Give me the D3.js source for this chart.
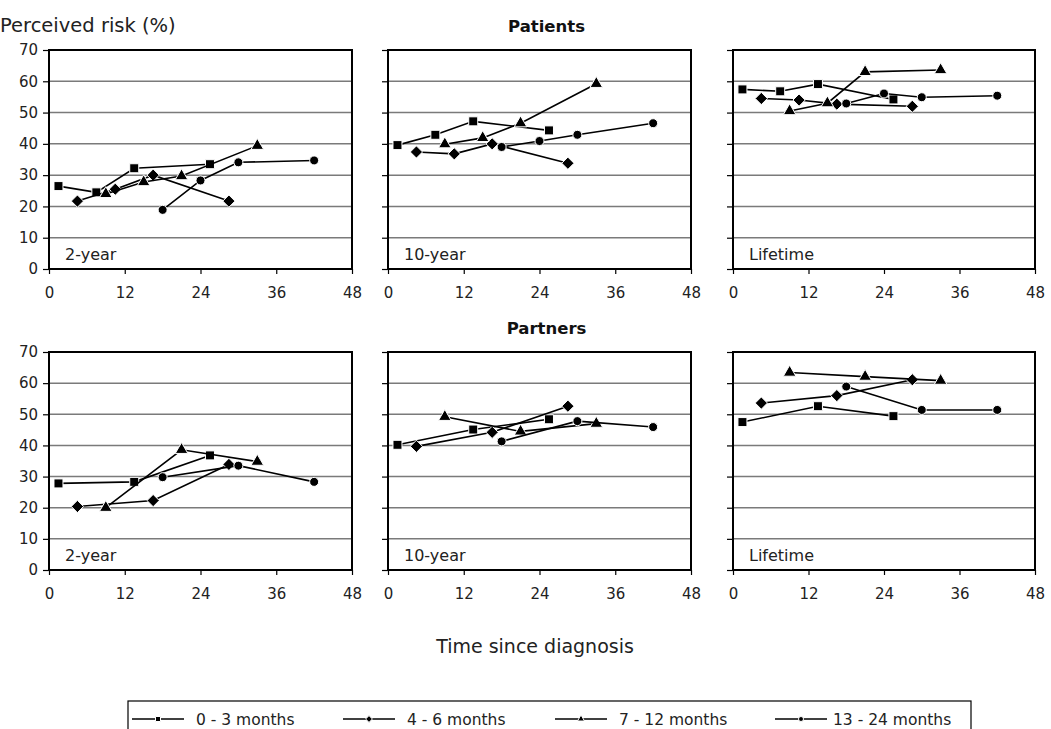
<!DOCTYPE html>
<html>
<head>
<meta charset="utf-8">
<script src="https://cdn.jsdelivr.net/npm/d3@7"></script>
<style>
  html, body { margin: 0; padding: 0; background: #fff; }
  svg { display: block; font-family: "DejaVu Sans", sans-serif; }
</style>
</head>
<body>
<div id="chart"></div>
<script>
// Perceived risk over time since diagnosis, patients vs partners
const groups = ["0 - 3 months", "4 - 6 months", "7 - 12 months", "13 - 24 months"];
const symbols = ["square", "diamond", "triangle", "circle"];
const xTicks = [0, 12, 24, 36, 48];
const yTicks = [0, 10, 20, 30, 40, 50, 60, 70];
const riskTypes = ["2-year", "10-year", "Lifetime"];

// months since diagnosis at each assessment, per group
const patientMonths = [[1.5, 7.5, 13.5, 25.5], [4.5, 10.5, 16.5, 28.5], [9, 15, 21, 33], [18, 24, 30, 42]];
const partnerMonths = [[1.5, 13.5, 25.5], [4.5, 16.5, 28.5], [9, 21, 33], [18, 30, 42]];

// perceived risk (%) per group
const patients2yr  = [[26.5, 24.5, 32.2, 33.5], [21.7, 25.5, 30.0, 21.7], [24.0, 27.8, 29.7, 39.4], [18.9, 28.3, 34.1, 34.7]];
const patients10yr = [[39.6, 42.9, 47.2, 44.3], [37.4, 36.8, 40.0, 33.8], [39.9, 41.9, 46.6, 59.2], [39.0, 40.9, 42.9, 46.6]];
const patientsLife = [[57.4, 56.8, 59.1, 54.2], [54.5, 54.0, 52.7, 52.0], [50.5, 53.0, 63.0, 63.6], [52.9, 56.1, 54.9, 55.4]];
const partners2yr  = [[27.8, 28.3, 36.8], [20.4, 22.3, 33.9], [20.0, 38.6, 34.8], [29.8, 33.5, 28.3]];
const partners10yr = [[40.2, 45.1, 48.4], [39.7, 44.2, 52.6], [49.2, 44.5, 47.0], [41.3, 47.8, 45.9]];
const partnersLife = [[47.5, 52.6, 49.4], [53.6, 56.0, 61.1], [63.4, 62.1, 60.8], [58.9, 51.4, 51.4]];

(function () {
    const W = 1051, H = 729;
    const rowTop = [50, 352], rowBottom = [269, 570];
    const colLeft = [49, 388, 733], colRight = [352, 691, 1035];

    const rows = [
        { title: "Patients", months: patientMonths, sets: [patients2yr, patients10yr, patientsLife] },
        { title: "Partners", months: partnerMonths, sets: [partners2yr, partners10yr, partnersLife] }
    ];

    const svg = d3.select("#chart").append("svg").attr("width", W).attr("height", H);

    // ── Marker shapes ────────────────────────────────────────────────────────
    function markerPath(kind, s) {
        if (kind === "square") return d3.symbol(d3.symbolSquare, s * s)();
        if (kind === "circle") return d3.symbol(d3.symbolCircle, Math.PI * (s / 2) * (s / 2))();
        if (kind === "triangle") return d3.symbol(d3.symbolTriangle, s * s * 0.85)();
        const h = s * 0.68;   // rotated square
        return `M0,${-h}L${h},0L0,${h}L${-h},0Z`;
    }

    // ── Panels ───────────────────────────────────────────────────────────────
    rows.forEach((row, r) => {
        row.sets.forEach((set, c) => {
            const x = d3.scaleLinear().domain([0, 48]).range([colLeft[c], colRight[c]]);
            const y = d3.scaleLinear().domain([0, 70]).range([rowBottom[r], rowTop[r]]);
            const g = svg.append("g");

            // gridlines
            g.selectAll(".grid").data(yTicks.filter(v => v > 0 && v < 70)).join("line")
                .attr("x1", x(0)).attr("x2", x(48))
                .attr("y1", d => y(d)).attr("y2", d => y(d))
                .attr("stroke", "#7a7a7a").attr("stroke-width", 1.5);

            // axes
            const yAxis = g.append("g").attr("transform", `translate(${x(0)},0)`)
                .call(d3.axisLeft(y).tickValues(yTicks).tickSize(6).tickPadding(5)
                    .tickFormat(c === 0 ? d3.format("d") : () => ""));
            const xAxis = g.append("g").attr("transform", `translate(0,${y(0)})`)
                .call(d3.axisBottom(x).tickValues(xTicks).tickSize(5).tickPadding(13));
            [yAxis, xAxis].forEach(a => {
                a.select(".domain").remove();
                a.selectAll("line").attr("stroke", "#000").attr("stroke-width", 1.2);
                a.selectAll("text").attr("fill", "#222").style("font-size", "15px")
                    .style("font-family", "'DejaVu Sans', sans-serif");
            });

            // frame
            g.append("rect")
                .attr("x", x(0)).attr("y", y(70))
                .attr("width", x(48) - x(0)).attr("height", y(0) - y(70))
                .attr("fill", "none").attr("stroke", "#000").attr("stroke-width", 2);

            // panel label
            g.append("text").attr("x", x(0) + 16).attr("y", y(0) - 9)
                .style("font-size", "16px").attr("fill", "#222").text(riskTypes[c]);

            // series
            const line = d3.line().x(d => x(d[0])).y(d => y(d[1]));
            set.forEach((vals, k) => {
                const pts = vals.map((v, i) => [row.months[k][i], v]);
                g.append("path").attr("d", line(pts))
                    .attr("fill", "none").attr("stroke", "#000").attr("stroke-width", 1.6);
                g.selectAll(`.m${k}`).data(pts).join("path")
                    .attr("transform", d => `translate(${x(d[0])},${y(d[1])})`)
                    .attr("d", markerPath(symbols[k], 9))
                    .attr("fill", "#000").attr("stroke", "#fff").attr("stroke-width", 1);
            });
        });

        svg.append("text").attr("x", (colLeft[1] + colRight[1]) / 2 + 7).attr("y", rowTop[r] - 18)
            .attr("text-anchor", "middle").style("font-size", "16.5px").style("font-weight", "bold")
            .attr("fill", "#111").text(row.title);
    });

    // ── Titles ───────────────────────────────────────────────────────────────
    svg.append("text").attr("x", 0).attr("y", 32)
        .style("font-size", "19.5px").attr("fill", "#222").text("Perceived risk (%)");
    svg.append("text").attr("x", 535).attr("y", 653).attr("text-anchor", "middle")
        .style("font-size", "19px").attr("fill", "#222").text("Time since diagnosis");

    // ── Legend ───────────────────────────────────────────────────────────────
    svg.append("rect").attr("x", 128).attr("y", 701).attr("width", 843).attr("height", 40)
        .attr("fill", "none").attr("stroke", "#000").attr("stroke-width", 1.2);
    const legendX = [132, 343, 555, 775];
    groups.forEach((name, k) => {
        const lg = svg.append("g").attr("transform", `translate(${legendX[k]},719)`);
        lg.append("line").attr("x1", 0).attr("x2", 52).attr("stroke", "#000").attr("stroke-width", 1.6);
        lg.append("path").attr("transform", "translate(26,0)")
            .attr("d", markerPath(symbols[k], 5)).attr("fill", "#000")
            .attr("stroke", "#fff").attr("stroke-width", 1);
        lg.append("text").attr("x", k === 3 ? 58 : 64).attr("y", 6)
            .style("font-size", "15.5px").attr("fill", "#222").text(name);
    });
})();
</script>
</body>
</html>
